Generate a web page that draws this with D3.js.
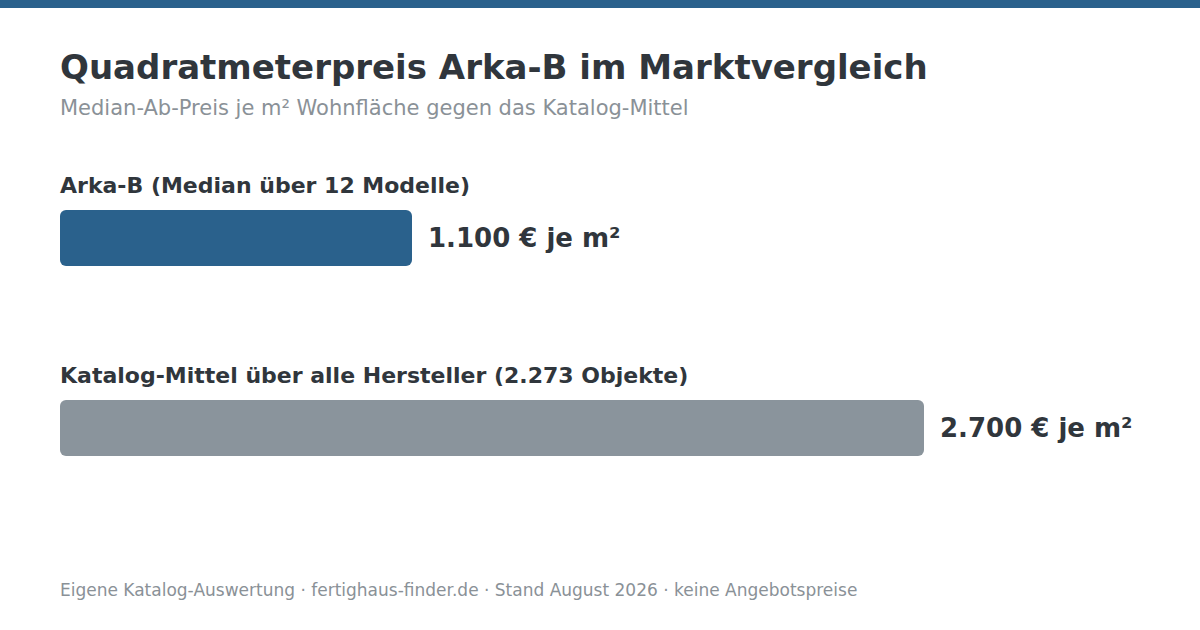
<!DOCTYPE html>
<html>
<head>
<meta charset="utf-8">
<script src="https://cdn.jsdelivr.net/npm/d3@7"></script>
<style>
  html, body { margin: 0; padding: 0; background: #ffffff; }
  svg { display: block; font-family: "DejaVu Sans", sans-serif; }
</style>
</head>
<body>
<svg id="chart" width="1200" height="630"></svg>
<script>
// data
const labels = ["Arka-B (Median über 12 Modelle)", "Katalog-Mittel über alle Hersteller (2.273 Objekte)"];
const values = [1100, 2700];
const valueLabels = ["1.100 € je m²", "2.700 € je m²"];
const colors = ["#2a618c", "#8a949c"];

const svg = d3.select("#chart");
const W = 1200, H = 630;
const left = 60;

svg.append("rect").attr("x", 0).attr("y", 0).attr("width", W).attr("height", 8).attr("fill", "#2a618c");

svg.append("text")
  .attr("x", left).attr("y", 79)
  .attr("fill", "#30363c")
  .style("font-size", "34px").style("font-weight", "bold")
  .text("Quadratmeterpreis Arka-B im Marktvergleich");

svg.append("text")
  .attr("x", left).attr("y", 115)
  .attr("fill", "#8a9197")
  .style("font-size", "21px")
  .text("Median-Ab-Preis je m² Wohnfläche gegen das Katalog-Mittel");

const x = d3.scaleLinear().domain([0, 2700]).range([0, 864]);
const rowY = d3.scalePoint().domain(d3.range(values.length)).range([210, 400]);
const barH = 56;

const rows = svg.selectAll("g.row")
  .data(values)
  .join("g")
  .attr("class", "row")
  .attr("transform", (d, i) => `translate(${left},${rowY(i)})`);

rows.append("text")
  .attr("x", 0).attr("y", -17)
  .attr("fill", "#30363c")
  .style("font-size", "22px").style("font-weight", "bold")
  .text((d, i) => labels[i]);

rows.append("rect")
  .attr("x", 0).attr("y", 0)
  .attr("width", d => x(d)).attr("height", barH)
  .attr("rx", 6).attr("ry", 6)
  .attr("fill", (d, i) => colors[i]);

rows.append("text")
  .attr("x", d => x(d) + 16).attr("y", barH / 2)
  .attr("dy", "0.35em")
  .attr("fill", "#30363c")
  .style("font-size", "26px").style("font-weight", "bold")
  .text((d, i) => valueLabels[i]);

svg.append("text")
  .attr("x", left).attr("y", 596)
  .attr("fill", "#8a9197")
  .style("font-size", "17px")
  .text("Eigene Katalog-Auswertung · fertighaus-finder.de · Stand August 2026 · keine Angebotspreise");
</script>
</body>
</html>
